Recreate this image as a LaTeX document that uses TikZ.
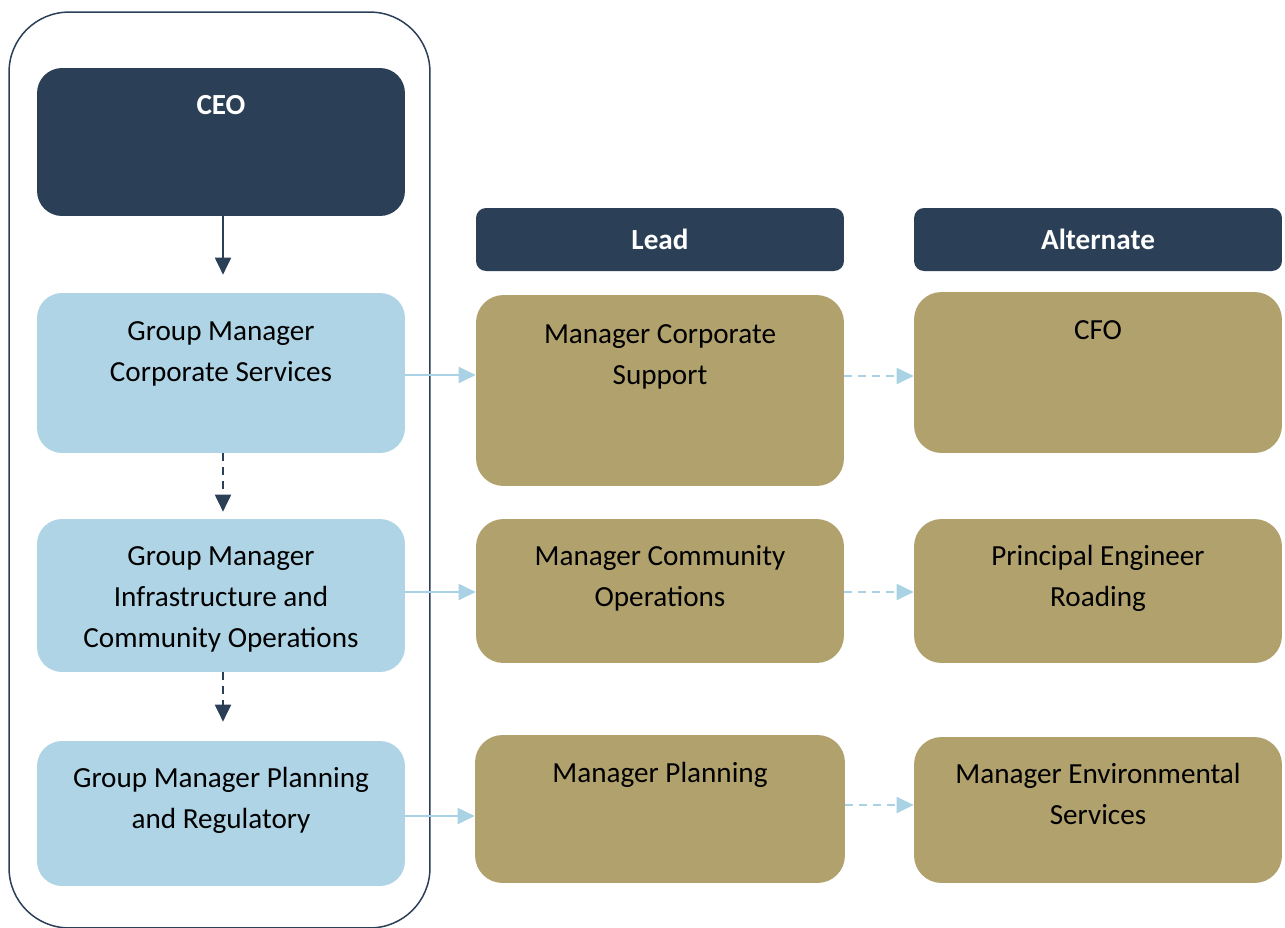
\documentclass[tikz,border=0pt]{standalone}
\usepackage{fontspec}
\setmainfont{Carlito}
\usetikzlibrary{arrows.meta}
\definecolor{navy}{HTML}{2B3F57}
\definecolor{skyblue}{HTML}{AED4E5}
\definecolor{olive}{HTML}{B0A16D}
\definecolor{arrowblue}{HTML}{A9D2E4}
\begin{document}
\begin{tikzpicture}[x=0.02cm,y=-0.02cm]
\tikzset{
  box/.style={draw=none,minimum width=7.36cm,inner sep=0pt,rounded corners=0.5cm},
  dark/.style={box,fill=navy},
  head/.style={box,fill=navy,rounded corners=0.2cm,minimum height=1.26cm,
    font=\fontsize{16.6}{23.3}\selectfont\bfseries,text=white},
  blue/.style={box,fill=skyblue},
  lead/.style={box,fill=olive,rounded corners=0.55cm},
  txt/.style={anchor=base,align=center,inner sep=0pt,
    font=\fontsize{16.6}{23.3}\selectfont},
  darkarrow/.style={draw=navy,line width=0.04cm,-{Triangle[width=0.32cm,length=0.34cm]}},
  bluearrow/.style={draw=arrowblue,line width=0.04cm,-{Triangle[width=0.32cm,length=0.34cm]}},
  dashline/.style={dash pattern=on 0.16cm off 0.12cm}
}
\useasboundingbox (0,0) rectangle (1285,927);

% left column
\draw (219.5,470) node (frame) [draw=navy,line width=0.03cm,rounded corners=1.2cm,
  minimum width=8.42cm,minimum height=18.32cm] {};
\draw (221,142) node (ceo) [dark,minimum height=2.96cm] {};
\draw (221,373) node (gmcs) [blue,minimum height=3.2cm] {};
\draw (221,595.5) node (gmic) [blue,minimum height=3.06cm] {};
\draw (221,813.5) node (gmpr) [blue,minimum height=2.9cm] {};

% headers
\draw (660,239.5) node (lead) [head] {Lead};
\draw (1098,239.5) node (alt) [head] {Alternate};

% lead and alternate boxes
\draw (660,390.5) node (mcs) [lead,minimum height=3.82cm] {};
\draw (1098,372.5) node (cfo) [lead,minimum height=3.22cm] {};
\draw (660,591) node (mco) [lead,minimum height=2.88cm] {};
\draw (1098,591) node (per) [lead,minimum height=2.88cm] {};
\draw (660,809) node (mpl) [lead,minimum width=7.4cm,minimum height=2.96cm] {};
\draw (1098,810) node (mes) [lead,minimum height=2.92cm] {};

% texts (base = last line)
\node (ceotxt) [txt,text=white,font=\fontsize{16.6}{23.3}\selectfont\bfseries]
  at ([yshift=-0.94cm]ceo.north) {CEO};
\node (gmcstxt) [txt] at ([yshift=-1.78cm]gmcs.north) {Group Manager\\Corporate Services};
\node (gmictxt) [txt] at ([yshift=-2.58cm]gmic.north) {Group Manager\\Infrastructure and\\Community Operations};
\node (gmprtxt) [txt] at ([yshift=-1.76cm]gmpr.north) {Group Manager Planning\\and Regulatory};
\node (mcstxt) [txt] at ([yshift=-1.80cm]mcs.north) {Manager Corporate\\Support};
\node (cfotxt) [txt] at ([yshift=-0.96cm]cfo.north) {CFO};
\node (mcotxt) [txt] at ([yshift=-1.76cm]mco.north) {Manager Community\\Operations};
\node (pertxt) [txt] at ([yshift=-1.76cm]per.north) {Principal Engineer\\Roading};
\node (mpltxt) [txt] at ([yshift=-0.96cm]mpl.north) {Manager Planning};
\node (mestxt) [txt] at ([yshift=-1.76cm]mes.north) {Manager Environmental\\Services};

% connectors
\draw [darkarrow,shorten >=0.36cm] ([xshift=0.04cm]ceo.south) -- ([xshift=0.04cm]gmcs.north);
\draw [darkarrow,dashline,shorten >=0.14cm] ([xshift=0.04cm]gmcs.south) -- ([xshift=0.04cm]gmic.north);
\draw [darkarrow,dashline,shorten >=0.38cm] ([xshift=0.04cm]gmic.south) -- ([xshift=0.04cm]gmpr.north);
\draw [bluearrow] ([yshift=-0.04cm]gmcs.east) -- ([yshift=-0.04cm]gmcs.east -| mcs.west);
\draw [bluearrow] ([yshift=0.07cm]gmic.east) -- ([yshift=0.07cm]gmic.east -| mco.west);
\draw [bluearrow] ([yshift=-0.05cm]gmpr.east) -- ([yshift=-0.05cm]gmpr.east -| mpl.west);
\draw [bluearrow,dashline] ([yshift=-0.07cm]cfo.west -| mcs.east) -- ([yshift=-0.07cm]cfo.west);
\draw [bluearrow,dashline] ([yshift=-0.02cm]mco.east) -- ([yshift=-0.02cm]per.west);
\draw [bluearrow,dashline] ([yshift=0.08cm]mpl.east) -- ([yshift=0.08cm]mpl.east -| mes.west);
\end{tikzpicture}
\end{document}
